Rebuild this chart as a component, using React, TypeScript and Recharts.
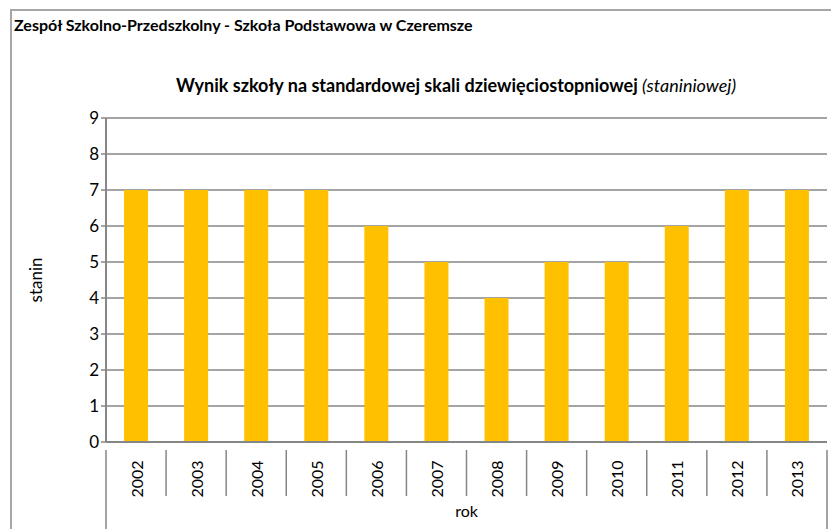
import React from 'react'
import { BarChart, Bar, XAxis, YAxis, CartesianGrid, Label } from 'recharts'

const years = ['2002', '2003', '2004', '2005', '2006', '2007', '2008', '2009', '2010', '2011', '2012', '2013']
const stanin = [7, 7, 7, 7, 6, 5, 4, 5, 5, 6, 7, 7]
const yTicks = [0, 1, 2, 3, 4, 5, 6, 7, 8, 9]

const data = years.map((rok, i) => ({ rok, stanin: stanin[i] }))

const W = 831
const H = 529
const PLOT_LEFT = 106
const PLOT_RIGHT = 4
const PLOT_TOP = 118
const X_AXIS_H = 87
const AXIS = '#868686'
const FONT = 'Lato, "Open Sans", sans-serif'

const band = (W - PLOT_LEFT - PLOT_RIGHT) / years.length

const YearTick = (props: any) => {
  const { x, y, payload, index } = props
  const left = x - band / 2
  const right = x + band / 2
  return (
    <g>
      <line x1={left} y1={y} x2={left} y2={y + (index === 0 ? 80 : 46)} stroke={AXIS} strokeWidth={1.5} />
      {index === years.length - 1 && (
        <line x1={right} y1={y} x2={right} y2={y + 80} stroke={AXIS} strokeWidth={1.5} />
      )}
      <text
        x={x}
        y={y + 29}
        transform={`rotate(-90 ${x} ${y + 29})`}
        textAnchor="middle"
        dominantBaseline="central"
        fontSize={16}
        fontFamily={FONT}
        fill="#000"
      >
        {payload.value}
      </text>
    </g>
  )
}

const StaninLabel = (props: any) => {
  const vb = props.viewBox || {}
  const cy = vb.y + vb.height / 2
  const cx = 35
  return (
    <text
      x={cx}
      y={cy}
      transform={`rotate(-90 ${cx} ${cy})`}
      textAnchor="middle"
      dominantBaseline="central"
      fontSize={17}
      fontFamily={FONT}
      fill="#000"
    >
      stanin
    </text>
  )
}

export default function App() {
  return (
    <div style={{ position: 'fixed', left: 0, top: 0, width: W, height: H, background: '#fff', overflow: 'hidden' }}>
      <div
        style={{
          position: 'absolute',
          left: 10,
          top: 9,
          width: W,
          height: H,
          borderLeft: '2px solid #a6a6a6',
          borderTop: '2px solid #a6a6a6',
        }}
      />
      <div
        style={{
          position: 'absolute',
          left: 14,
          top: 15,
          fontFamily: FONT,
          fontWeight: 'bold',
          fontSize: 16,
          whiteSpace: 'nowrap',
        }}
      >
        Zespół Szkolno-Przedszkolny - Szkoła Podstawowa w Czeremsze
      </div>
      <div
        style={{
          position: 'absolute',
          left: 0,
          width: 912,
          top: 74,
          textAlign: 'center',
          fontFamily: FONT,
          fontWeight: 'bold',
          fontSize: 18,
          whiteSpace: 'nowrap',
        }}
      >
        Wynik szkoły na standardowej skali dziewięciostopniowej <span style={{ fontStyle: 'italic', fontWeight: 'normal' }}>(staniniowej)</span>
      </div>
      <div style={{ position: 'absolute', left: 0, top: 0 }}>
        <BarChart
          width={W}
          height={H}
          data={data}
          margin={{ top: PLOT_TOP, right: PLOT_RIGHT, left: 0, bottom: 0 }}
          barCategoryGap="30%"
        >
          <CartesianGrid vertical={false} stroke={AXIS} strokeWidth={1.3} />
          <XAxis
            dataKey="rok"
            height={X_AXIS_H}
            interval={0}
            axisLine={{ stroke: AXIS, strokeWidth: 2 }}
            tickLine={false}
            tick={<YearTick />}
          >
            <Label
              value="rok"
              position="insideBottom"
              offset={12}
              style={{ fontSize: 16, fontFamily: FONT, fill: '#000' }}
            />
          </XAxis>
          <YAxis
            width={PLOT_LEFT}
            domain={[0, 9]}
            ticks={yTicks}
            interval={0}
            axisLine={{ stroke: AXIS, strokeWidth: 2 }}
            tickLine={{ stroke: AXIS, strokeWidth: 1.5 }}
            tickSize={5}
            tick={{ fontSize: 17, fontFamily: FONT, fill: '#000' }}
          >
            <Label content={<StaninLabel />} />
          </YAxis>
          <Bar dataKey="stanin" fill="#FFC000" isAnimationActive={false} />
        </BarChart>
      </div>
    </div>
  )
}
